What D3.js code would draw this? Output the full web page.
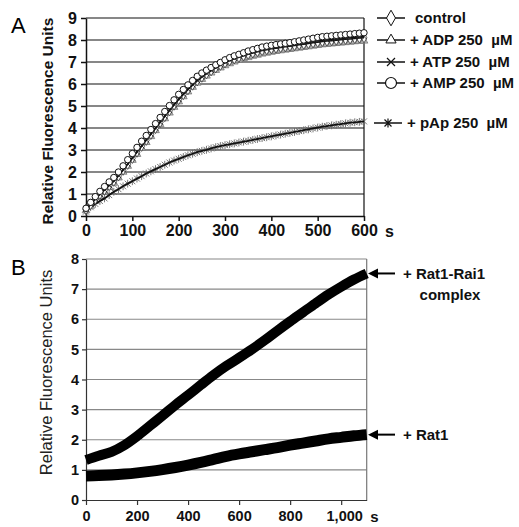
<!DOCTYPE html>
<html>
<head>
<meta charset="utf-8">
<script src="https://cdn.jsdelivr.net/npm/d3@7"></script>
<style>
body { margin: 0; background: #fff; }
svg { display: block; }
text { font-family: Arial, "Liberation Sans", sans-serif; }
</style>
</head>
<body>
<svg id="chart" width="519" height="527"></svg>
<script>
// ---- panel A: one reading every 10 s, 0..600 s
const timeA = d3.range(0, 601, 10);
const ampValues = [0.35,0.62,0.88,1.12,1.34,1.55,1.75,2.0,2.28,2.56,2.84,3.12,3.4,3.66,3.93,4.2,4.48,4.75,5.02,5.28,5.53,5.75,5.96,6.16,6.35,6.5,6.63,6.75,6.87,6.98,7.1,7.2,7.28,7.35,7.42,7.5,7.56,7.62,7.68,7.72,7.76,7.79,7.82,7.85,7.88,7.92,7.96,8.0,8.04,8.08,8.12,8.15,8.17,8.19,8.21,8.23,8.25,8.27,8.29,8.31,8.33];
const controlValues = [0.3,0.52,0.76,0.98,1.18,1.38,1.58,1.82,2.08,2.35,2.62,2.9,3.17,3.44,3.71,3.98,4.25,4.52,4.78,5.04,5.29,5.52,5.74,5.95,6.14,6.31,6.46,6.6,6.73,6.85,6.96,7.06,7.14,7.21,7.28,7.35,7.41,7.47,7.52,7.56,7.6,7.63,7.66,7.69,7.72,7.75,7.78,7.81,7.84,7.87,7.9,7.93,7.95,7.97,7.99,8.01,8.03,8.05,8.07,8.09,8.1];
const atpValues = [0.32,0.55,0.78,1.0,1.2,1.4,1.61,1.85,2.11,2.38,2.65,2.93,3.2,3.47,3.74,4.01,4.28,4.55,4.81,5.07,5.32,5.55,5.77,5.98,6.17,6.34,6.49,6.63,6.76,6.88,6.99,7.09,7.18,7.26,7.33,7.4,7.46,7.52,7.57,7.61,7.65,7.69,7.72,7.75,7.78,7.81,7.84,7.87,7.9,7.93,7.96,7.99,8.01,8.03,8.05,8.07,8.09,8.11,8.13,8.15,8.16];
const adpValues = [0.25,0.45,0.68,0.9,1.1,1.3,1.5,1.74,2.0,2.27,2.54,2.81,3.08,3.35,3.62,3.89,4.16,4.43,4.69,4.95,5.2,5.43,5.65,5.86,6.05,6.22,6.37,6.51,6.63,6.74,6.84,6.93,7.01,7.08,7.15,7.21,7.27,7.32,7.37,7.41,7.45,7.49,7.52,7.55,7.58,7.61,7.64,7.67,7.7,7.73,7.76,7.79,7.81,7.83,7.85,7.87,7.89,7.91,7.93,7.95,7.96];
const papValues = [0.2,0.4,0.55,0.68,0.8,0.95,1.1,1.22,1.35,1.47,1.58,1.7,1.81,1.93,2.03,2.13,2.23,2.33,2.43,2.52,2.6,2.68,2.76,2.83,2.9,2.96,3.01,3.07,3.13,3.18,3.22,3.26,3.3,3.34,3.38,3.42,3.46,3.5,3.54,3.58,3.62,3.66,3.7,3.74,3.78,3.82,3.86,3.9,3.94,3.98,4.02,4.06,4.09,4.12,4.15,4.18,4.21,4.24,4.26,4.28,4.3];

const xTicksA = [0, 100, 200, 300, 400, 500, 600];
const yTicksA = [0, 1, 2, 3, 4, 5, 6, 7, 8, 9];
const legendLabelsA = ["control", "+ ADP 250  \u00b5M", "+ ATP 250  \u00b5M", "+ AMP 250  \u00b5M", "+ pAp 250  \u00b5M"];

// ---- panel B: one reading every 50 s, 0..1100 s
const timeB = d3.range(0, 1101, 50);
const rat1Rai1Values = [1.33,1.47,1.6,1.82,2.12,2.46,2.8,3.15,3.48,3.82,4.15,4.45,4.72,5.0,5.3,5.62,5.93,6.23,6.53,6.82,7.08,7.32,7.52];
const rat1Values = [0.8,0.81,0.83,0.86,0.9,0.95,1.01,1.08,1.16,1.25,1.35,1.45,1.53,1.6,1.67,1.74,1.82,1.89,1.96,2.03,2.08,2.13,2.17];

const xTicksB = [0, 200, 400, 600, 800, 1000];
const yTicksB = [0, 1, 2, 3, 4, 5, 6, 7, 8];

const svg = d3.select("#chart");

// marker paths
const diamond = d3.symbol().type(d3.symbolDiamond).size(30);
const triangle = d3.symbol().type(d3.symbolTriangle).size(26);
function cross(s) { return `M${-s},${-s}L${s},${s}M${-s},${s}L${s},${-s}`; }
function asterisk(s) { return cross(s) + `M0,${-s * 1.3}L0,${s * 1.3}`; }

// ================= PANEL A =================
const xA = d3.scaleLinear().domain([0, 600]).range([86, 364]);
const yA = d3.scaleLinear().domain([0, 9]).range([216, 18]);

const gA = svg.append("g");

gA.append("text").attr("x", 11).attr("y", 33)
    .attr("font-size", 22).text("A");

// gridlines
gA.append("g").selectAll("line").data(yTicksA.slice(1)).join("line")
    .attr("x1", xA(0)).attr("x2", xA(600))
    .attr("y1", d => yA(d)).attr("y2", d => yA(d))
    .attr("stroke", "#111").attr("stroke-width", 1.2);
gA.append("line").attr("x1", xA(600)).attr("x2", xA(600))
    .attr("y1", yA(9)).attr("y2", yA(0)).attr("stroke", "#111").attr("stroke-width", 1.2);

const axAx = gA.append("g").attr("transform", `translate(0,${yA(0)})`)
    .call(d3.axisBottom(xA).tickValues(xTicksA).tickSize(5).tickSizeOuter(0).tickPadding(4));
const axAy = gA.append("g").attr("transform", `translate(${xA(0)},0)`)
    .call(d3.axisLeft(yA).tickValues(yTicksA).tickSize(5).tickSizeOuter(0).tickPadding(4));
[axAx, axAy].forEach(a => {
    a.selectAll("path, line").attr("stroke", "#111").attr("stroke-width", 1.5);
    a.selectAll("text").attr("font-size", 16).attr("font-weight", "bold").attr("fill", "#111")
        .attr("font-family", "Arial, 'Liberation Sans', sans-serif");
});
gA.append("text").attr("x", xA(600) + 21).attr("y", yA(0) + 20.5)
    .attr("font-size", 16).attr("font-weight", "bold").attr("fill", "#111").text("s");

gA.append("text")
    .attr("transform", `translate(53,${(yA(0) + yA(9)) / 2 + 4}) rotate(-90)`)
    .attr("text-anchor", "middle").attr("font-size", 15.5).attr("font-weight", "bold")
    .attr("fill", "#111").text("Relative Fluorescence Units");

const lineA = vals => d3.line().x((d, i) => xA(timeA[i])).y(d => yA(d))(vals);

// ADP (grey triangles)
gA.append("path").attr("d", lineA(adpValues)).attr("fill", "none").attr("stroke", "#888").attr("stroke-width", 1.5);
gA.append("g").selectAll("path").data(adpValues).join("path")
    .attr("d", triangle).attr("transform", (d, i) => `translate(${xA(timeA[i])},${yA(d)})`)
    .attr("fill", "#bbb").attr("stroke", "#777").attr("stroke-width", 0.8);

// pAp (asterisks)
gA.append("g").selectAll("path").data(papValues).join("path")
    .attr("d", asterisk(3)).attr("transform", (d, i) => `translate(${xA(timeA[i])},${yA(d)})`)
    .attr("fill", "none").attr("stroke", "#666").attr("stroke-width", 0.9);
gA.append("path").attr("d", lineA(papValues)).attr("fill", "none").attr("stroke", "#111").attr("stroke-width", 1.8);

// control (diamonds)
gA.append("g").selectAll("path").data(controlValues).join("path")
    .attr("d", diamond).attr("transform", (d, i) => `translate(${xA(timeA[i])},${yA(d)})`)
    .attr("fill", "#fff").attr("stroke", "#333").attr("stroke-width", 0.8);
gA.append("path").attr("d", lineA(controlValues)).attr("fill", "none").attr("stroke", "#111").attr("stroke-width", 1.5);

// ATP (crosses)
gA.append("g").selectAll("path").data(atpValues).join("path")
    .attr("d", cross(2.8)).attr("transform", (d, i) => `translate(${xA(timeA[i])},${yA(d)})`)
    .attr("fill", "none").attr("stroke", "#222").attr("stroke-width", 0.9);
gA.append("path").attr("d", lineA(atpValues)).attr("fill", "none").attr("stroke", "#111").attr("stroke-width", 1.5);

// AMP (open circles) on top
gA.append("path").attr("d", lineA(ampValues)).attr("fill", "none").attr("stroke", "#111").attr("stroke-width", 1);
gA.append("g").selectAll("circle").data(ampValues).join("circle")
    .attr("cx", (d, i) => xA(timeA[i])).attr("cy", d => yA(d)).attr("r", 3.2)
    .attr("fill", "#fff").attr("stroke", "#111").attr("stroke-width", 1);

// legend
const legendY = [18, 40, 62, 83, 123];
const legendTextX = [415, 410, 410, 410, 407];
const legendLine = [[377, 405], [377, 405], [377, 405], [377, 405], [374, 402]];
const legendMarks = [
    g => g.append("path").attr("d", d3.symbol().type(d3.symbolDiamond).size(70)).attr("fill", "#fff").attr("stroke", "#111").attr("stroke-width", 1),
    g => g.append("path").attr("d", d3.symbol().type(d3.symbolTriangle).size(45)).attr("fill", "#fff").attr("stroke", "#111").attr("stroke-width", 1),
    g => g.append("path").attr("d", cross(4)).attr("fill", "none").attr("stroke", "#111").attr("stroke-width", 1.2),
    g => g.append("circle").attr("r", 5.5).attr("fill", "#fff").attr("stroke", "#111").attr("stroke-width", 1.2),
    g => g.append("path").attr("d", asterisk(3.5)).attr("fill", "none").attr("stroke", "#111").attr("stroke-width", 1.2)
];
const leg = gA.append("g");
legendLabelsA.forEach((lab, i) => {
    const [x1, x2] = legendLine[i];
    leg.append("line").attr("x1", x1).attr("x2", x2).attr("y1", legendY[i]).attr("y2", legendY[i])
        .attr("stroke", "#111").attr("stroke-width", 1.5);
    const m = leg.append("g").attr("transform", `translate(${(x1 + x2) / 2},${legendY[i]})`);
    legendMarks[i](m);
    leg.append("text").attr("x", legendTextX[i]).attr("y", legendY[i]).attr("dy", "0.35em")
        .attr("font-size", 15).attr("font-weight", "bold").attr("fill", "#111")
        .attr("xml:space", "preserve").style("white-space", "pre").text(lab);
});

// ================= PANEL B =================
const xB = d3.scaleLinear().domain([0, 1100]).range([86, 366.7]);
const yB = d3.scaleLinear().domain([0, 8]).range([500, 259]);

const gB = svg.append("g");

gB.append("text").attr("x", 11).attr("y", 275)
    .attr("font-size", 22).text("B");

gB.append("g").selectAll("line").data(yTicksB.slice(1)).join("line")
    .attr("x1", xB(0)).attr("x2", xB(1100))
    .attr("y1", d => yB(d)).attr("y2", d => yB(d))
    .attr("stroke", "#888").attr("stroke-width", 1.2);
gB.append("line").attr("x1", xB(1100)).attr("x2", xB(1100))
    .attr("y1", yB(8)).attr("y2", yB(0)).attr("stroke", "#777").attr("stroke-width", 1.2);

const axBx = gB.append("g").attr("transform", `translate(0,${yB(0)})`)
    .call(d3.axisBottom(xB).tickValues(xTicksB).tickSize(5).tickSizeOuter(0).tickPadding(6)
        .tickFormat(d3.format(",")));
const axBy = gB.append("g").attr("transform", `translate(${xB(0)},0)`)
    .call(d3.axisLeft(yB).tickValues(yTicksB).tickSize(4).tickSizeOuter(0).tickPadding(3));
[axBx, axBy].forEach(a => {
    a.selectAll("path, line").attr("stroke", "#333").attr("stroke-width", 1.2);
    a.selectAll("text").attr("font-size", 14.5).attr("font-weight", "bold").attr("fill", "#111")
        .attr("font-family", "Arial, 'Liberation Sans', sans-serif");
});
axBx.selectAll(".tick text").attr("dx", d => d === 1000 ? 3 : 0);
gB.append("text").attr("x", xB(1000) + 29).attr("y", yB(0) + 21.5)
    .attr("font-size", 15).attr("font-weight", "bold").attr("fill", "#111").text("s");

gB.append("text")
    .attr("transform", `translate(52,${(yB(0) + yB(8)) / 2 - 7}) rotate(-90)`)
    .attr("text-anchor", "middle").attr("font-size", 16.5)
    .attr("fill", "#222").text("Relative Fluorescence Units");

const lineB = vals => d3.line().curve(d3.curveMonotoneX)
    .x((d, i) => xB(timeB[i])).y(d => yB(d))(vals);
gB.append("path").attr("d", lineB(rat1Values)).attr("fill", "none")
    .attr("stroke", "#000").attr("stroke-width", 11).attr("stroke-linejoin", "round");
gB.append("path").attr("d", lineB(rat1Rai1Values)).attr("fill", "none")
    .attr("stroke", "#000").attr("stroke-width", 10).attr("stroke-linejoin", "round");

// arrows with labels
const arrowLabels = [
    { lines: ["+ Rat1-Rai1", "complex"], value: rat1Rai1Values[rat1Rai1Values.length - 1] },
    { lines: ["+ Rat1"], value: rat1Values[rat1Values.length - 1] }
];
arrowLabels.forEach(a => {
    const y = yB(a.value);
    gB.append("line").attr("x1", 376).attr("x2", 395).attr("y1", y).attr("y2", y)
        .attr("stroke", "#000").attr("stroke-width", 2);
    gB.append("path").attr("d", `M368,${y}L378,${y - 5}L378,${y + 5}Z`).attr("fill", "#000");
    gB.append("text").attr("x", 403).attr("y", y).attr("dy", "0.35em")
        .attr("font-size", 15).attr("font-weight", "bold").attr("fill", "#111").text(a.lines[0]);
    if (a.lines[1]) {
        gB.append("text").attr("x", 450).attr("y", y + 21).attr("dy", "0.35em")
            .attr("text-anchor", "middle")
            .attr("font-size", 15).attr("font-weight", "bold").attr("fill", "#111").text(a.lines[1]);
    }
});
</script>
</body>
</html>
